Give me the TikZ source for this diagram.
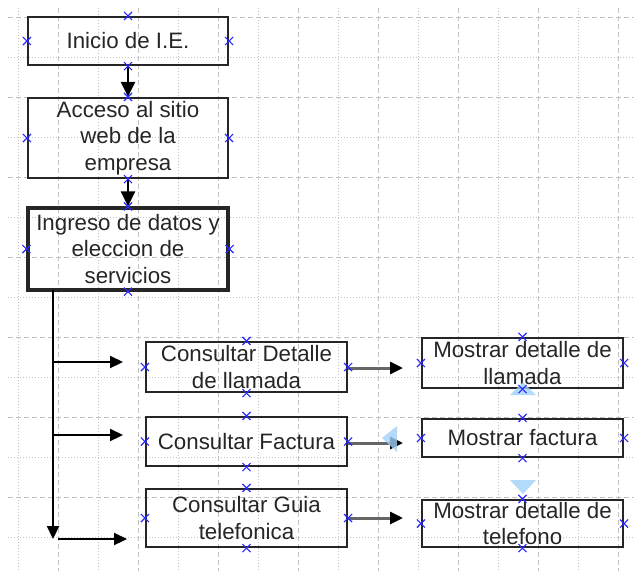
\documentclass[tikz,border=0pt]{standalone}
\usepackage{fontspec}
\setmainfont{Liberation Sans}
\usetikzlibrary{arrows.meta}
\definecolor{gridc}{gray}{0.76}
\definecolor{xcol}{RGB}{40,40,255}
\definecolor{hint}{RGB}{160,208,250}
\tikzset{
  box/.style={draw=black!85,line width=2.2pt,rectangle,inner sep=1pt,align=center,
    text=black!85,font=\fontsize{22.3}{26.7}\selectfont},
  arr/.style={draw=black,line width=2.2pt,-{Triangle[length=15pt,width=14pt]}},
  barr/.style={draw=black,line width=2.2pt,-{Triangle[length=13pt,width=12pt]}},
  garr/.style={draw=black!60,line width=3pt,-{Triangle[length=13pt,width=12pt,fill=black,color=black]}},
  majorg/.style={draw=gridc,line width=1pt,dash pattern=on 5pt off 3pt},
  minorg/.style={draw=gridc,line width=1pt,dash pattern=on 1pt off 2pt},
  xm/.pic={\draw[xcol,line width=1.2pt] (-4,-4)--(4,4) (-4,4)--(4,-4);},
  tri/.style={fill=hint,draw=none,fill opacity=0.8}
}
\begin{document}
\begin{tikzpicture}[x=1pt,y=-1pt]
\useasboundingbox (0,0) rectangle (634,571);
% grid
\foreach \k in {0,...,6}{
  \draw[majorg] (8,{17+80*\k}) -- (634,{17+80*\k});
  \draw[minorg] (8,{57+80*\k}) -- (634,{57+80*\k});
}
\foreach \k in {0,...,7}{
  \draw[majorg] ({58+80*\k},8) -- ({58+80*\k},571);
  \draw[minorg] ({18+80*\k},8) -- ({18+80*\k},571);
}
% boxes
\node[box,minimum width=200pt,minimum height=48pt] (b1) at (128,41) {Inicio de I.E.};
\node[box,minimum width=200pt,minimum height=80pt] (b2) at (128,138) {Acceso al sitio\\web de la\\empresa};
\node[box,line width=3.2pt,minimum width=200pt,minimum height=82pt] (b3) at (128,249) {Ingreso de datos y\\eleccion de\\servicios};
\node[box,minimum width=201pt,minimum height=50pt] (bA) at (246.5,367) {Consultar Detalle\\de llamada};
\node[box,minimum width=201pt,minimum height=49pt] (bB) at (246.5,441.5) {Consultar Factura};
\node[box,minimum width=201pt,minimum height=58pt] (bC) at (246.5,518) {Consultar Guia\\telefonica};
\node[box,minimum width=201pt,minimum height=50pt] (bD) at (522.5,363) {Mostrar detalle de\\llamada};
\node[box,minimum width=201pt,minimum height=38pt] (bE) at (522.5,438) {Mostrar factura};
\node[box,minimum width=201pt,minimum height=47pt] (bF) at (522.5,523.5) {Mostrar detalle de\\telefono};
% free ends
\coordinate (t0) at (53,290);
\coordinate (tend) at (53,539);
\coordinate (s1) at (53,362);
\coordinate (e1) at (123,362);
\coordinate (s2) at (53,435);
\coordinate (e2) at (123,435);
\coordinate (s3) at (58,539);
\coordinate (e3) at (127,539);
\coordinate (rA) at (403,368);
\coordinate (rB) at (403,443);
\coordinate (rC) at (403,518);
% connectors
\draw[arr] (b1.south) -- (b2.north);
\draw[arr] (b2.south) -- (b3.north);
\draw[barr] (t0) -- (tend);
\draw[barr] (s1) -- (e1);
\draw[barr] (s2) -- (e2);
\draw[barr] (s3) -- (e3);
\draw[garr] (bA.east |- rA) -- (rA);
\draw[garr] (bB.east |- rB) -- (rB);
\draw[garr] (bC.east) -- (rC);
% hint triangles
\fill[tri] (523,382) -- (536,395) -- (510,395) -- cycle;
\fill[tri] (382,438) -- (397,426) -- (397,452) -- cycle;
\fill[tri] (510,480) -- (536,480) -- (523,494) -- cycle;
% connection crosses
\foreach \n in {b1,b2,b3,bA,bB,bC,bD,bE,bF}{
  \pic at (\n.north) {xm};
  \pic at (\n.south) {xm};
  \pic at (\n.east) {xm};
  \pic at (\n.west) {xm};
}
\end{tikzpicture}
\end{document}
